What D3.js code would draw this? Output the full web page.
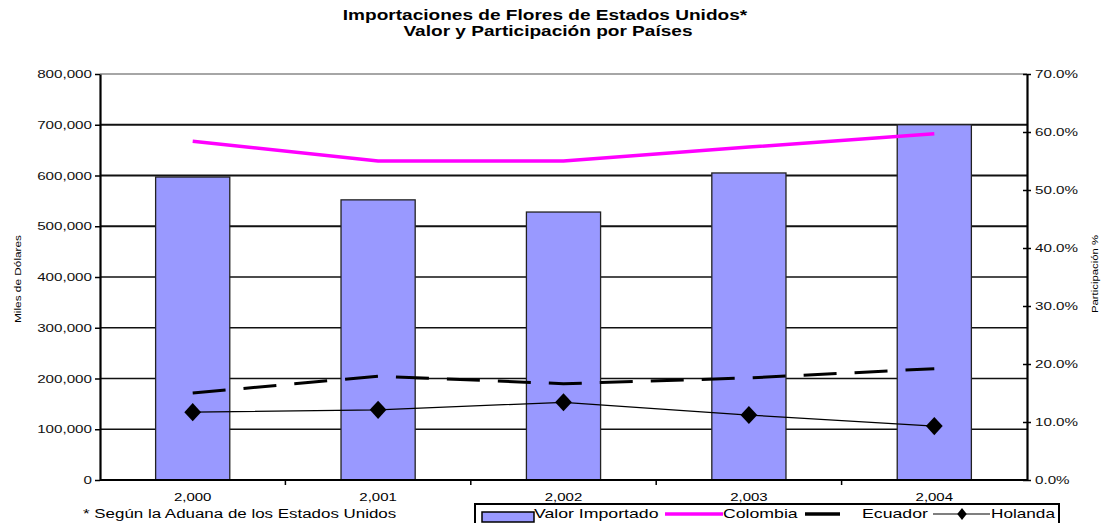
<!DOCTYPE html>
<html>
<head>
<meta charset="utf-8">
<script src="https://cdn.jsdelivr.net/npm/d3@7"></script>
<style>
  body { margin: 0; background: #fff; }
  text { font-family: "Liberation Sans", Arial, sans-serif; }
</style>
</head>
<body>
<svg id="chart" width="1101" height="523"></svg>
<script>
// data
var years = ["2,000", "2,001", "2,002", "2,003", "2,004"];
var valorImportado = [597000, 552000, 528000, 605000, 700000];
var colombia = [58.4, 55.0, 55.0, 57.4, 59.7];
var ecuador = [15.0, 17.9, 16.6, 17.6, 19.2];
var holanda = [11.7, 12.1, 13.4, 11.2, 9.3];
var leftTicks = [0, 100000, 200000, 300000, 400000, 500000, 600000, 700000, 800000];
var rightTicks = [0, 10, 20, 30, 40, 50, 60, 70];

var margin = {top: 74, right: 74, bottom: 43, left: 100};
var width = 1101 - margin.left - margin.right,
    height = 523 - margin.top - margin.bottom;

var svg = d3.select("#chart");

// the original text is drawn wide, so stretch it horizontally
function stretch(sel, k) {
  sel.each(function() {
    var w = this.getComputedTextLength();
    d3.select(this).attr("textLength", w * k).attr("lengthAdjust", "spacingAndGlyphs");
  });
}

// title
svg.append("text")
  .attr("x", 545).attr("y", 20)
  .attr("text-anchor", "middle")
  .attr("font-size", "15px").attr("font-weight", "bold")
  .text("Importaciones de Flores de Estados Unidos*")
  .call(stretch, 1.27);
svg.append("text")
  .attr("x", 548).attr("y", 36)
  .attr("text-anchor", "middle")
  .attr("font-size", "15px").attr("font-weight", "bold")
  .text("Valor y Participación por Países")
  .call(stretch, 1.27);

var plot = svg.append("g")
  .attr("transform", "translate(" + margin.left + "," + margin.top + ")");

// scales
var x = d3.scaleBand().domain(years).range([0, width]).paddingInner(0.6).paddingOuter(0.3);
var xPoint = function(d) { return x(d) + x.bandwidth() / 2; };
var xEdges = d3.scaleBand().domain(years).range([0, width]);
var yLeft = d3.scaleLinear().domain([0, 800000]).range([height, 0]);
var yRight = d3.scaleLinear().domain([0, 70]).range([height, 0]);

// gridlines
plot.append("g").selectAll("line")
  .data(leftTicks.slice(1))
  .enter().append("line")
  .attr("x1", 0).attr("x2", width)
  .attr("y1", function(d) { return yLeft(d); })
  .attr("y2", function(d) { return yLeft(d); })
  .attr("stroke", function(d) { return d === 800000 ? "#888" : "#111"; })
  .attr("stroke-width", function(d) { return d >= 500000 && d < 800000 ? 2 : 1.4; });

// bars
plot.append("g").selectAll("rect")
  .data(valorImportado)
  .enter().append("rect")
  .attr("x", function(d, i) { return x(years[i]); })
  .attr("y", function(d) { return yLeft(d); })
  .attr("width", x.bandwidth())
  .attr("height", function(d) { return height - yLeft(d); })
  .attr("fill", "#9999ff")
  .attr("stroke", "#222")
  .attr("stroke-width", 1.3);

// lines
var line = function(vals) {
  return d3.line()
    .x(function(d, i) { return xPoint(years[i]); })
    .y(function(d) { return yRight(d); })(vals);
};

plot.append("path").attr("d", line(colombia))
  .attr("fill", "none").attr("stroke", "#ff00ff").attr("stroke-width", 3.5);

plot.append("path").attr("d", line(ecuador))
  .attr("fill", "none").attr("stroke", "#000").attr("stroke-width", 3)
  .attr("stroke-dasharray", "33,18");

plot.append("path").attr("d", line(holanda))
  .attr("fill", "none").attr("stroke", "#000").attr("stroke-width", 1.2);

var diamond = d3.symbol().type(d3.symbolDiamond).size(95);
plot.append("g").selectAll("path")
  .data(holanda)
  .enter().append("path")
  .attr("d", diamond)
  .attr("transform", function(d, i) { return "translate(" + xPoint(years[i]) + "," + yRight(d) + ") scale(1.6,1)"; })
  .attr("fill", "#000");

// left axis
var leftAxis = plot.append("g")
  .call(d3.axisLeft(yLeft).tickValues(leftTicks).tickFormat(d3.format(",")).tickSize(5).tickSizeOuter(0));
leftAxis.select(".domain").attr("stroke-width", 2.2);
leftAxis.selectAll(".tick line").attr("stroke-width", 1.5);
leftAxis.selectAll("text").attr("font-size", "11px").attr("fill", "#111").call(stretch, 1.38);

// right axis
var rightAxis = plot.append("g")
  .attr("transform", "translate(" + width + ",0)")
  .call(d3.axisRight(yRight).tickValues(rightTicks).tickFormat(function(d) { return d.toFixed(1) + "%"; }).tickSize(4).tickSizeOuter(0));
rightAxis.select(".domain").attr("stroke-width", 2.2);
rightAxis.selectAll(".tick line").attr("x1", -4).attr("stroke-width", 1.5);
rightAxis.selectAll("text").attr("font-size", "11px").attr("fill", "#111").attr("x", 8).call(stretch, 1.38);

// bottom axis: ticks between categories
var xAxis = plot.append("g")
  .attr("transform", "translate(0," + height + ")");
xAxis.append("line").attr("x1", 0).attr("x2", width).attr("stroke", "#000").attr("stroke-width", 2.2);
xAxis.selectAll(".xt")
  .data(years.slice(1))
  .enter().append("line")
  .attr("x1", function(d) { return xEdges(d); })
  .attr("x2", function(d) { return xEdges(d); })
  .attr("y1", 0).attr("y2", 5)
  .attr("stroke", "#000").attr("stroke-width", 1.5);
xAxis.selectAll(".xl")
  .data(years)
  .enter().append("text")
  .attr("x", function(d) { return xPoint(d); })
  .attr("y", 21)
  .attr("text-anchor", "middle")
  .attr("font-size", "11px")
  .text(function(d) { return d; })
  .call(stretch, 1.36);

// axis titles
svg.append("text")
  .attr("transform", "translate(21,279) rotate(-90)")
  .attr("text-anchor", "middle")
  .attr("font-size", "9.5px")
  .attr("textLength", 88).attr("lengthAdjust", "spacingAndGlyphs")
  .text("Miles de Dólares");
svg.append("text")
  .attr("transform", "translate(1098,274) rotate(-90)")
  .attr("text-anchor", "middle")
  .attr("font-size", "9.5px")
  .attr("textLength", 78).attr("lengthAdjust", "spacingAndGlyphs")
  .text("Participación %");

// footnote
svg.append("text")
  .attr("x", 83).attr("y", 518)
  .attr("font-size", "12px")
  .text("* Según la Aduana de los Estados Unidos")
  .call(stretch, 1.41);

// legend
var legend = svg.append("g").attr("transform", "translate(475,504)");
legend.append("rect").attr("x", 0).attr("y", 0).attr("width", 584).attr("height", 22)
  .attr("fill", "#fff").attr("stroke", "#000").attr("stroke-width", 2);
legend.append("rect").attr("x", 7).attr("y", 8).attr("width", 52).attr("height", 10)
  .attr("fill", "#9999ff").attr("stroke", "#000").attr("stroke-width", 1.5);
legend.append("text").attr("x", 59).attr("y", 14).attr("font-size", "13px").text("Valor Importado").call(stretch, 1.36);
legend.append("line").attr("x1", 190).attr("x2", 248).attr("y1", 10).attr("y2", 10)
  .attr("stroke", "#ff00ff").attr("stroke-width", 3.5);
legend.append("text").attr("x", 248).attr("y", 14).attr("font-size", "13px").text("Colombia").call(stretch, 1.36);
legend.append("line").attr("x1", 330).attr("x2", 365).attr("y1", 10).attr("y2", 10)
  .attr("stroke", "#000").attr("stroke-width", 3.5);
legend.append("text").attr("x", 387).attr("y", 14).attr("font-size", "13px").text("Ecuador").call(stretch, 1.36);
legend.append("line").attr("x1", 458).attr("x2", 515).attr("y1", 10).attr("y2", 10)
  .attr("stroke", "#000").attr("stroke-width", 1.2);
legend.append("path").attr("d", d3.symbol().type(d3.symbolDiamond).size(40))
  .attr("transform", "translate(487,10) scale(1.4,1)").attr("fill", "#000");
legend.append("text").attr("x", 516).attr("y", 14).attr("font-size", "13px").text("Holanda").call(stretch, 1.32);
</script>
</body>
</html>
